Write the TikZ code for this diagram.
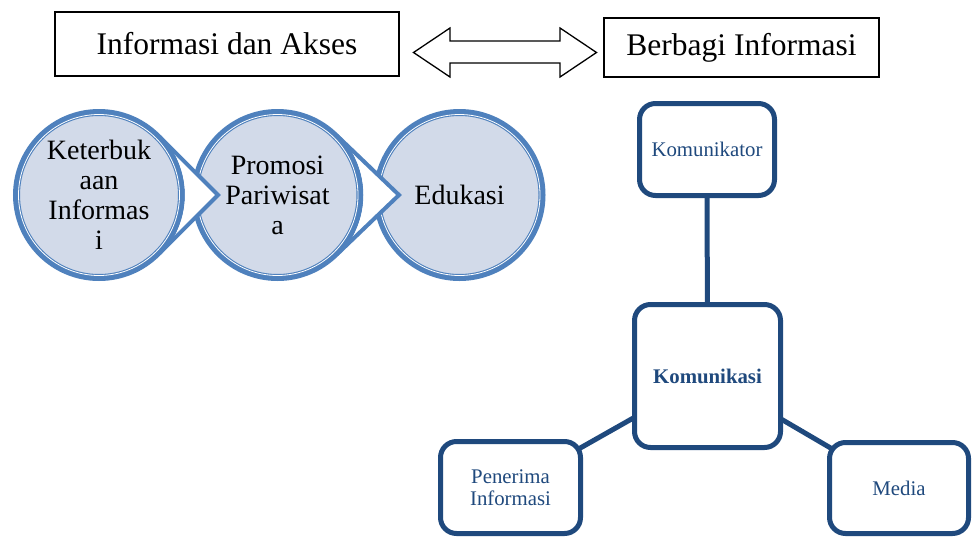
\documentclass[tikz,border=0pt]{standalone}
\usepackage{fontspec}
\setmainfont{Liberation Serif}
\usetikzlibrary{calc,backgrounds}
\definecolor{ringblue}{RGB}{79,129,189}
\definecolor{circfill}{RGB}{210,218,233}
\definecolor{darkblue}{RGB}{31,73,125}
\begin{document}
\begin{tikzpicture}[x=1pt,y=-1pt,
  topbox/.style={draw=black,line width=1.3pt,fill=white,inner sep=0pt,font=\fontsize{31.5}{36}\selectfont},
  circnode/.style={circle,draw=ringblue,fill=circfill,line width=7pt,minimum size=165pt,inner sep=0pt,align=center,font=\fontsize{28}{30}\selectfont},
  innerring/.style={draw=white,line width=0.8pt},
  wedgeline/.style={draw=ringblue,line width=4pt,line join=miter},
  rbox/.style={draw=darkblue,line width=5pt,fill=white,rounded corners=16pt,inner sep=0pt,align=center,text=darkblue,font=\fontsize{20.8}{22}\selectfont},
  link/.style={draw=darkblue,line width=5pt},
  dblarrow/.style={draw=black,line width=1.3pt,fill=white,line join=miter}]
\useasboundingbox (0,0) rectangle (973,538);
\clip (0,0) rectangle (973,538);

% top boxes
\node[topbox,minimum width=344pt,minimum height=64pt] (info) at (227,44) {Informasi dan Akses};
\node[topbox,minimum width=275pt,minimum height=59pt] (berbagi) at (741.5,47.5) {Berbagi Informasi};
\draw[dblarrow] (413.5,52.5) -- (450,28) -- (450,41) -- (560,41) -- (560,28) -- (596.5,52.5)
  -- (560,77) -- (560,63) -- (450,63) -- (450,77) -- cycle;

% circles
\node[circnode] (k1) at (99,195) {Keterbuk\\aan\\Informas\\i};
\draw[innerring] (k1.center) circle[radius=80.5];
\node[circnode] (k2) at (277.5,195) {Promosi\\Pariwisat\\a};
\draw[innerring] (k2.center) circle[radius=80.5];
\coordinate (t1) at (218,195);
\fill[white] ($(k1.center)+(44:86)$) -- (t1) -- ($(k1.center)+(-44:86)$) arc[start angle=-44,end angle=44,radius=86] -- cycle;
\draw[wedgeline] ($(k1.center)+(44:84)$) -- (t1) -- ($(k1.center)+(-44:84)$);
\node[circnode] (k3) at (459.5,195) {Edukasi};
\draw[innerring] (k3.center) circle[radius=80.5];
\coordinate (t2) at (399,195);
\fill[white] ($(k2.center)+(45:86)$) -- (t2) -- ($(k2.center)+(-45:86)$) arc[start angle=-45,end angle=45,radius=86] -- cycle;
\draw[wedgeline] ($(k2.center)+(45:84)$) -- (t2) -- ($(k2.center)+(-45:84)$);

% communication diagram
\node[rbox,minimum width=135pt,minimum height=92pt] (kom) at (707,149.5) {Komunikator};
\node[rbox,minimum width=146pt,minimum height=143pt,font=\bfseries\fontsize{20.8}{22}\selectfont] (kms) at (707.5,376) {Komunikasi};
\node[rbox,minimum width=140pt,minimum height=92pt] (pen) at (510.5,487.5) {Penerima\\Informasi};
\node[rbox,minimum width=139pt,minimum height=91pt] (med) at (899,488) {Media};
\begin{scope}[on background layer]
\draw[link] (kom.center) -- (kms.center);
\draw[link] (kms.center) -- (pen.center);
\draw[link] (kms.center) -- (med.center);
\end{scope}
\end{tikzpicture}
\end{document}
